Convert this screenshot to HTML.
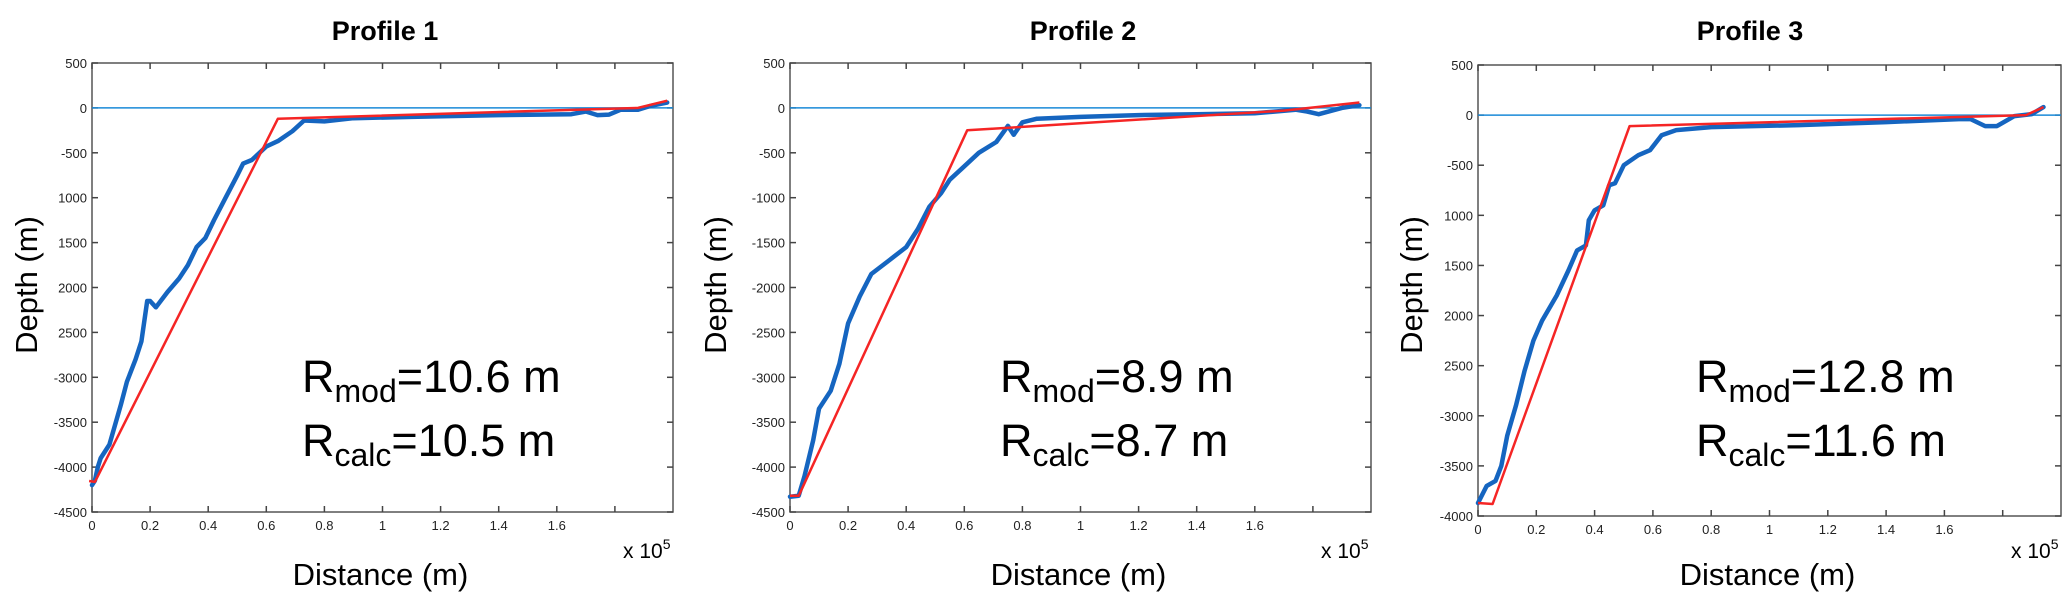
<!DOCTYPE html>
<html><head><meta charset="utf-8">
<style>
html,body{margin:0;padding:0;background:#fff;}
svg{display:block;}
text{font-family:"Liberation Sans",sans-serif;}
</style></head>
<body>
<svg id="fig" width="2067" height="594" viewBox="0 0 2067 594" xmlns="http://www.w3.org/2000/svg"></svg>
<script>
// ---- data ----
const xTicks = [0, 0.2, 0.4, 0.6, 0.8, 1, 1.2, 1.4, 1.6, 1.8];
const xTickLabels = ["0","0.2","0.4","0.6","0.8","1","1.2","1.4","1.6",""];
const titles = ["Profile 1","Profile 2","Profile 3"];
const rmodLabels = ["=10.6 m","=8.9 m","=12.8 m"];
const rcalcLabels = ["=10.5 m","=8.7 m","=11.6 m"];

const p1Yticks = [500,0,-500,-1000,-1500,-2000,-2500,-3000,-3500,-4000,-4500];
const p1YtickLabels = ["500","0","-500","1000","1500","2000","2500","-3000","-3500","-4000","-4500"];
const p2Yticks = [500,0,-500,-1000,-1500,-2000,-2500,-3000,-3500,-4000,-4500];
const p2YtickLabels = ["500","0","-500","-1000","-1500","-2000","-2500","-3000","-3500","-4000","-4500"];
const p3Yticks = [500,0,-500,-1000,-1500,-2000,-2500,-3000,-3500,-4000];
const p3YtickLabels = ["500","0","-500","1000","1500","2000","2500","-3000","-3500","-4000"];

const p1BlueX = [0,0.01,0.02,0.03,0.06,0.1,0.12,0.15,0.17,0.19,0.2,0.22,0.26,0.3,0.33,0.36,0.39,0.42,0.46,0.5,0.52,0.55,0.6,0.64,0.69,0.73,0.8,0.9,1.1,1.4,1.65,1.7,1.74,1.78,1.82,1.88,1.92,1.98];
const p1BlueY = [-4200,-4150,-4000,-3900,-3750,-3300,-3050,-2800,-2600,-2150,-2150,-2220,-2050,-1900,-1750,-1550,-1450,-1250,-1000,-750,-620,-580,-430,-370,-260,-140,-150,-115,-100,-80,-70,-40,-80,-75,-20,-20,20,60];
const p1RedX = [-0.01,0.01,0.64,1.88,1.98];
const p1RedY = [-4155,-4165,-120,0,80];

const p2BlueX = [0,0.03,0.05,0.08,0.1,0.14,0.17,0.2,0.24,0.28,0.34,0.4,0.44,0.48,0.52,0.55,0.6,0.65,0.71,0.75,0.77,0.8,0.85,1.0,1.2,1.4,1.6,1.74,1.78,1.82,1.9,1.96];
const p2BlueY = [-4330,-4320,-4100,-3700,-3350,-3150,-2850,-2400,-2100,-1850,-1700,-1550,-1350,-1100,-950,-800,-650,-500,-380,-200,-300,-160,-120,-100,-80,-70,-60,-20,-40,-70,0,30];
const p2RedX = [0,0.03,0.61,1.7,1.96];
const p2RedY = [-4320,-4320,-250,-30,60];

const p3BlueX = [0,0.03,0.06,0.08,0.1,0.13,0.16,0.19,0.22,0.27,0.31,0.34,0.37,0.38,0.4,0.43,0.45,0.47,0.5,0.55,0.59,0.63,0.68,0.8,1.1,1.4,1.65,1.69,1.74,1.78,1.84,1.9,1.94];
const p3BlueY = [-3870,-3700,-3650,-3500,-3200,-2900,-2550,-2250,-2050,-1800,-1550,-1350,-1300,-1050,-950,-900,-700,-680,-500,-400,-350,-200,-150,-120,-100,-70,-40,-40,-110,-110,-10,10,80];
const p3RedX = [0,0.05,0.52,1.88,1.94];
const p3RedY = [-3870,-3880,-110,0,80];

// ---- layout ----
const panels = [
 {L:92, R:673, T:63, B:512, ymax:500, ymin:-4500, yt:p1Yticks, ytl:p1YtickLabels, bx:p1BlueX, by:p1BlueY, rx:p1RedX, ry:p1RedY, tx:385, yl:26, ax:302},
 {L:790, R:1371, T:63, B:512, ymax:500, ymin:-4500, yt:p2Yticks, ytl:p2YtickLabels, bx:p2BlueX, by:p2BlueY, rx:p2RedX, ry:p2RedY, tx:1083, yl:715, ax:1000},
 {L:1478, R:2061, T:65, B:516, ymax:500, ymin:-4000, yt:p3Yticks, ytl:p3YtickLabels, bx:p3BlueX, by:p3BlueY, rx:p3RedX, ry:p3RedY, tx:1750, yl:1411, ax:1696}
];
const NS = "http://www.w3.org/2000/svg";
const svg = document.getElementById('fig');
function mk(tag, attrs, parent){
  const e = document.createElementNS(NS, tag);
  for (const k in attrs) e.setAttribute(k, attrs[k]);
  (parent||svg).appendChild(e);
  return e;
}
panels.forEach((p, i) => {
  const g = mk('g', {});
  
  
  const xs = v => p.L + (v - 0) / 2.0 * (p.R - p.L);
  const ys = v => p.T + (p.ymax - v) / (p.ymax - p.ymin) * (p.B - p.T);

  const t = mk('text', {x:p.tx, y:40, 'text-anchor':'middle', 'font-size':'27', 'font-weight':'bold', fill:'#000'}, g);
  t.textContent = titles[i];
  
  

  const box = mk('rect', {x:p.L, y:p.T, width:p.R-p.L, height:p.B-p.T, fill:'none', stroke:'#555', 'stroke-width':'1.5'}, g);
  
  

  xTicks.forEach((v, k) => {
    const x = xs(v);
    mk('line', {x1:x, x2:x, y1:p.B, y2:p.B-6, stroke:'#444', 'stroke-width':'1.5'}, g);
    mk('line', {x1:x, x2:x, y1:p.T, y2:p.T+6, stroke:'#444', 'stroke-width':'1.5'}, g);
    const tl = mk('text', {x:x, y:p.B+18, 'text-anchor':'middle', 'font-size':'13', fill:'#222'}, g);
    tl.textContent = xTickLabels[k];
    
    
  });
  p.yt.forEach((v, k) => {
    const y = ys(v);
    mk('line', {x1:p.L, x2:p.L+6, y1:y, y2:y, stroke:'#444', 'stroke-width':'1.5'}, g);
    mk('line', {x1:p.R, x2:p.R-6, y1:y, y2:y, stroke:'#444', 'stroke-width':'1.5'}, g);
    const tl = mk('text', {x:p.L-5, y:y+5, 'text-anchor':'end', 'font-size':'13', fill:'#222'}, g);
    tl.textContent = p.ytl[k];
    
    
  });

  const z = mk('line', {x1:p.L, x2:p.R, y1:ys(0), y2:ys(0), stroke:'#1a8ad8', 'stroke-width':'1.5'}, g);
  
  

  const bpts = p.bx.map((v, k) => xs(v).toFixed(1) + ',' + ys(p.by[k]).toFixed(1)).join(' ');
  const bl = mk('polyline', {points:bpts, fill:'none', stroke:'#1565c0', 'stroke-width':'4.5', 'stroke-linejoin':'round', 'stroke-linecap':'round'}, g);
  
  

  const rpts = p.rx.map((v, k) => xs(v).toFixed(1) + ',' + ys(p.ry[k]).toFixed(1)).join(' ');
  const rl = mk('polyline', {points:rpts, fill:'none', stroke:'#f52525', 'stroke-width':'2.5', 'stroke-linejoin':'round'}, g);
  
  

  const yl = mk('text', {x:0, y:0, 'text-anchor':'middle', 'font-size':'31', fill:'#000', transform:'translate(' + (p.yl+11) + ',' + 285 + ') rotate(-90)'}, g);
  yl.textContent = 'Depth (m)';
  
  

  const xl = mk('text', {x:(p.L+p.R)/2 - 2, y:585, 'text-anchor':'middle', 'font-size':'31', fill:'#000'}, g);
  xl.textContent = 'Distance (m)';
  
  

  const ex = mk('text', {x:p.R-50, y:558, 'font-size':'21', fill:'#000'}, g);
  ex.innerHTML = 'x 10<tspan dy="-9" font-size="14">5</tspan>';
  
  

  const a1 = mk('text', {x:p.ax, y:392, 'font-size':'45', fill:'#000'}, g);
  a1.innerHTML = 'R<tspan dy="10" font-size="32">mod</tspan><tspan dy="-10">' + rmodLabels[i] + '</tspan>';
  
  

  const a2 = mk('text', {x:p.ax, y:456, 'font-size':'45', fill:'#000'}, g);
  a2.innerHTML = 'R<tspan dy="10" font-size="32">calc</tspan><tspan dy="-10">' + rcalcLabels[i] + '</tspan>';
  
  
});
</script>
</body></html>
